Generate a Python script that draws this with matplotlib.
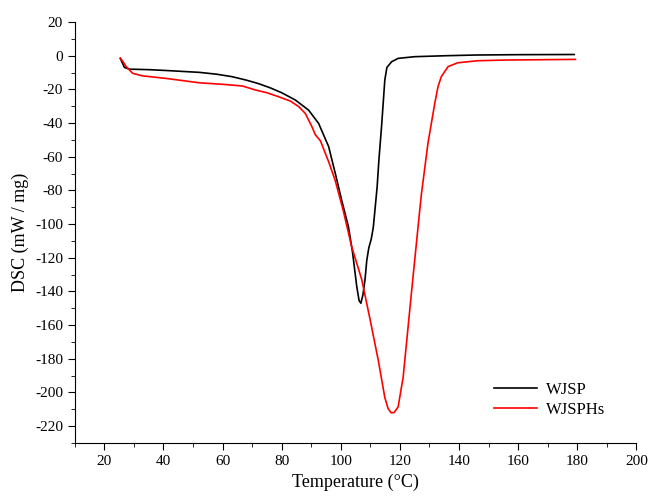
import numpy as np
import matplotlib.pyplot as plt
from matplotlib.ticker import MultipleLocator

plt.rcParams['font.family'] = ['Liberation Serif', 'DejaVu Serif']
plt.rcParams['axes.unicode_minus'] = False

# WJSP (black)
t_wjsp = [25.4, 26.8, 28.5, 35, 40.9, 52.1, 58, 63.3, 68, 72, 76, 80, 84.6, 89.1, 92.5,
          95.9, 98.3, 100.3, 102.6, 104.0, 105.4, 106.2, 106.8, 107.5, 108.2,
          108.8, 109.5, 110.3, 111.0, 111.6, 112.3, 112.9, 113.8, 114.9, 115.6,
          117.2, 119.4, 125, 136, 146, 160, 179]
dsc_wjsp = [-1.6, -7.0, -8.0, -8.3, -8.8, -9.9, -11.0, -12.5, -14.5, -16.5, -19.0, -22, -26.3, -32.3, -40.2,
            -54, -71, -85.8, -101.6, -117, -137, -145.5, -147, -142, -133,
            -121.5, -114, -109, -102, -91, -78, -62, -42, -14.5, -7,
            -3.6, -1.6, -0.6, 0.0, 0.4, 0.6, 0.7]

# WJSPHs (red)
t_wjsphs = [25.4, 26.3, 27.4, 29.6, 33, 40.9, 52.1, 60, 66.7, 71.2, 75, 79, 83,
            85.8, 88, 90.2, 91.4, 93.1, 95.9, 98.1, 100.8, 103.7, 107.1, 109.9,
            112.7, 114.9, 116.0, 117.0, 118.0, 119.4, 121.1, 123.9, 126.7, 127.3,
            129.5, 131.8, 132.9, 134, 136.3, 139.6, 146.4, 155.4, 179.4]
dsc_wjsphs = [-1.5, -3.5, -6.5, -10.5, -12.0, -13.5, -16.1, -17, -18, -20.4, -22, -24.4, -27,
              -30.3, -34.3, -42, -47, -50.5, -63, -74, -91.7, -113.5, -133, -156.5,
              -181, -203, -209.5, -212, -212, -208.6, -191, -141, -92, -82,
              -52, -28.3, -18.4, -12.5, -6.5, -4.2, -3, -2.6, -2.2]

fig = plt.figure(figsize=(6.56, 5), dpi=100)
ax = fig.add_axes([0.114, 0.114, 0.856, 0.842])

ax.plot(t_wjsp, dsc_wjsp, color='black', lw=1.2, label='WJSP')
ax.plot(t_wjsphs, dsc_wjsphs, color='red', lw=1.2, label='WJSPHs')

ax.set_xlim(10, 200)
ax.set_ylim(-230, 20)
ax.xaxis.set_minor_locator(MultipleLocator(10))
ax.yaxis.set_minor_locator(MultipleLocator(10))
ax.set_xticks(np.arange(20, 201, 20))
ax.set_yticks(np.arange(-220, 21, 20))

ax.spines['top'].set_visible(False)
ax.spines['right'].set_visible(False)
ax.tick_params(which='major', direction='out', length=5, labelsize=11)
ax.tick_params(which='minor', direction='out', length=3)

ax.set_xlabel('Temperature (°C)', fontsize=13)
ax.set_ylabel('DSC (mW / mg)', fontsize=13)

ax.legend(loc='upper left', bbox_to_anchor=(0.72, 0.18), frameon=False,
          fontsize=12, handlelength=2.6, handletextpad=0.5, labelspacing=0.2)

fig.savefig('out.png', dpi=100)
